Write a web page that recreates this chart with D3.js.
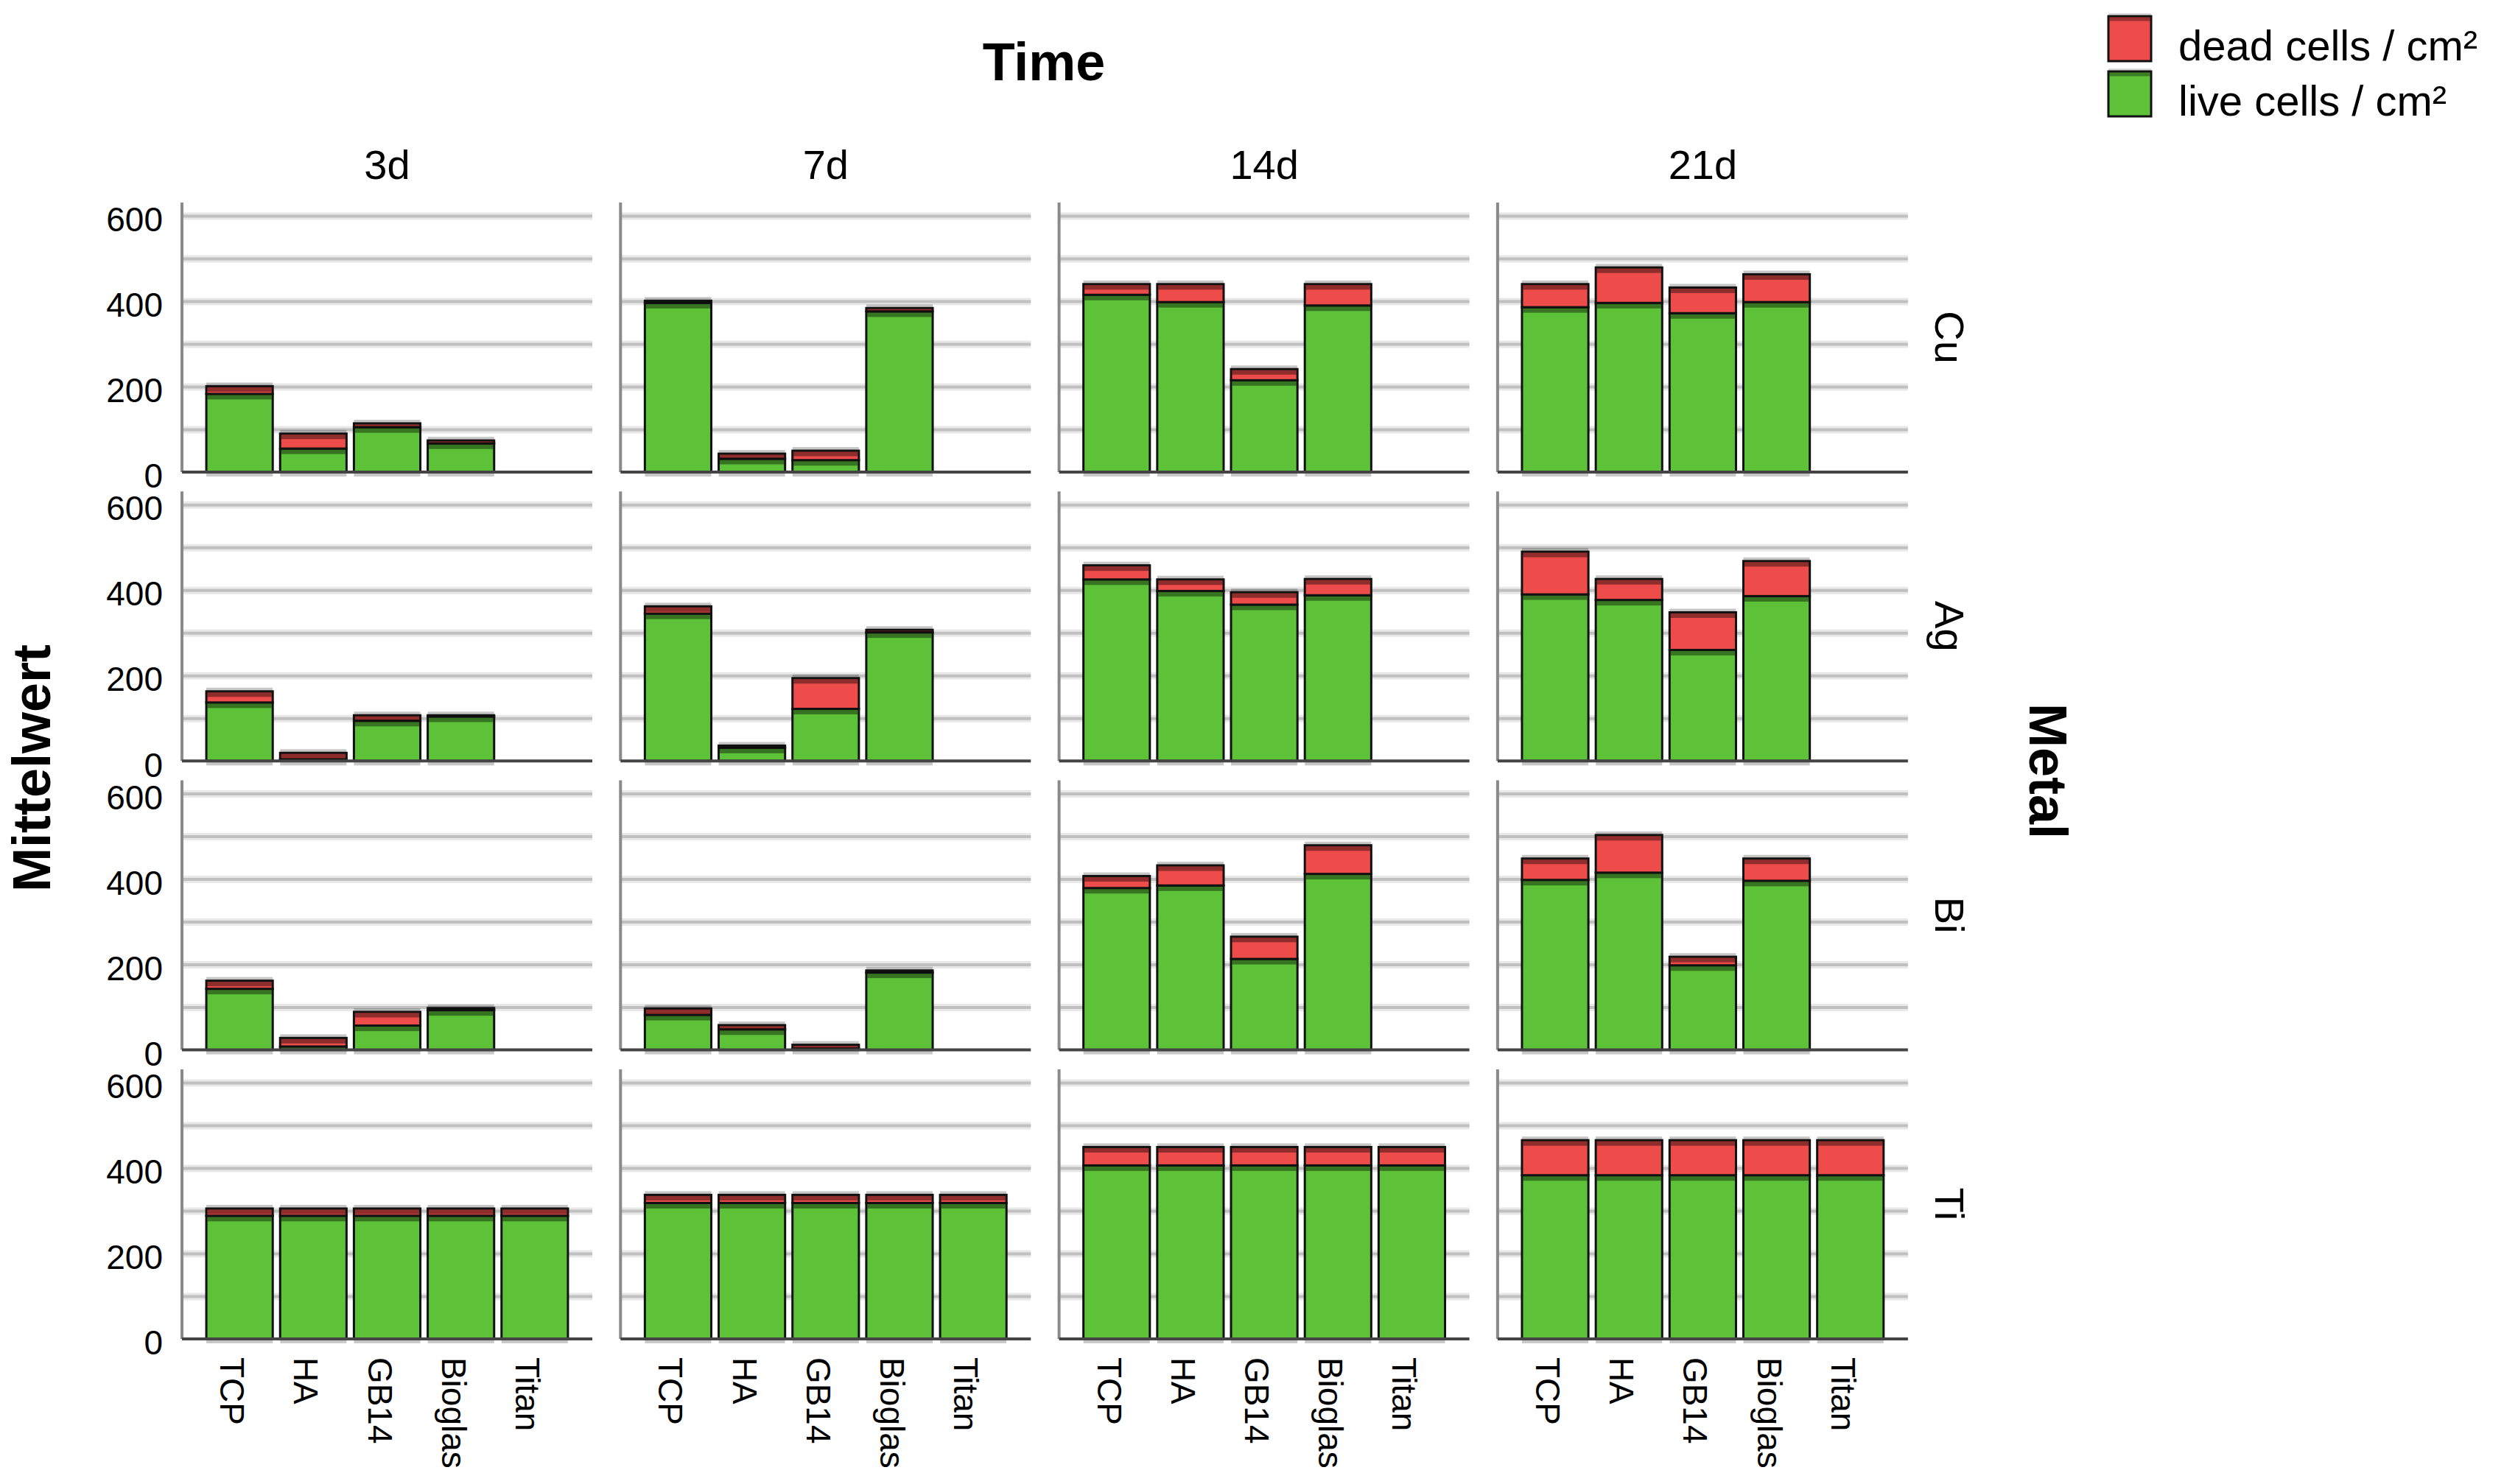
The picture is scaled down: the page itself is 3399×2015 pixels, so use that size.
<!DOCTYPE html>
<html>
<head>
<meta charset="utf-8">
<script src="https://cdn.jsdelivr.net/npm/d3@7"></script>
<style>
  body { margin: 0; background: #fff; }
  text { font-family: "Liberation Sans", Arial, sans-serif; fill: #000; }
</style>
</head>
<body>
<div id="chart"></div>
<script>
var metals = ["Cu", "Ag", "Bi", "Ti"];
var times = ["3d", "7d", "14d", "21d"];
var materials = ["TCP", "HA", "GB14", "Bioglas", "Titan"];
var yTicks = [0, 200, 400, 600];
var gridTicks = [100, 200, 300, 400, 500, 600];
var seriesNames = ["dead cells / cm²", "live cells / cm²"];

// mean cells / cm², one row per time: [TCP, HA, GB14, Bioglas(, Titan)]
var liveCu = [[183, 55, 105, 67], [396, 31, 28, 376], [415, 398, 215, 390], [386, 396, 372, 398]];
var deadCu = [[18, 35, 9, 7], [5, 12, 22, 8], [25, 42, 26, 50], [54, 83, 60, 65]];
var liveAg = [[137, 4, 94, 104], [345, 31, 122, 301], [425, 398, 366, 388], [390, 377, 260, 386]];
var deadAg = [[26, 15, 13, 3], [17, 5, 72, 6], [33, 27, 29, 38], [100, 49, 88, 82]];
var liveBi = [[143, 8, 57, 93], [82, 48, 3, 181], [379, 385, 213, 412], [398, 415, 198, 396]];
var deadBi = [[19, 20, 32, 5], [15, 10, 9, 5], [28, 47, 52, 67], [50, 88, 20, 52]];
var liveTi = [[288, 288, 288, 288, 288], [318, 318, 318, 318, 318], [406, 406, 406, 406, 406], [383, 383, 383, 383, 383]];
var deadTi = [[17, 17, 17, 17, 17], [19, 19, 19, 19, 19], [43, 43, 43, 43, 43], [82, 82, 82, 82, 82]];

var live = [liveCu, liveAg, liveBi, liveTi];
var dead = [deadCu, deadAg, deadBi, deadTi];

var colLive = "#5dc238", colDead = "#ee4b4b";

var width = 3399, height = 2015;
var colLeft = 247, colStep = 595.3, panelW = 557;
var rowTop = 275, rowStep = 392.3, panelH = 366;

var svg = d3.select("#chart")
	.append("svg")
	.attr("width", width)
	.attr("height", height);

var x = d3.scaleBand()
	.domain(materials)
	.range([0, panelW])
	.paddingInner(0.1)
	.paddingOuter(0.33);

var y = d3.scaleLinear()
	.domain([0, 631])
	.range([panelH, 0]);

var stack = d3.stack().keys(["live", "dead"]);

metals.forEach(function(m, i){
	times.forEach(function(t, j){
		var g = svg.append("g")
			.attr("transform", "translate(" + (colLeft + j * colStep) + ", " + (rowTop + i * rowStep) + ")");

		// gridlines: light halo then line
		g.append("g")
			.call(d3.axisLeft(y).tickValues(gridTicks).tickSize(-panelW).tickFormat(""))
			.call(function(a){ a.select(".domain").remove(); })
			.selectAll("line")
				.attr("stroke", "#e8e8e8")
				.attr("stroke-width", 10);
		g.append("g")
			.call(d3.axisLeft(y).tickValues(gridTicks).tickSize(-panelW).tickFormat(""))
			.call(function(a){ a.select(".domain").remove(); })
			.selectAll("line")
				.attr("stroke", "#c0c0c0")
				.attr("stroke-width", 4);

		var rows = live[i][j].map(function(v, k){
			return { mat: materials[k], live: v, dead: dead[i][j][k] };
		});
		var layers = stack(rows);

		// soft shadow behind each bar
		g.selectAll("rect.shadow")
			.data(rows)
			.enter()
			.append("rect")
				.attr("class", "shadow")
				.attr("x", function(d){ return x(d.mat); })
				.attr("y", function(d){ return y(d.live + d.dead) - 5; })
				.attr("width", x.bandwidth())
				.attr("height", function(d){ return panelH - y(d.live + d.dead) + 11; })
				.attr("fill", "#000")
				.attr("opacity", 0.22);

		layers.forEach(function(layer){
			var fill = layer.key == "live" ? colLive : colDead;
			var seg = g.append("g");
			seg.selectAll("rect.seg")
				.data(layer)
				.enter()
				.append("rect")
					.attr("class", "seg")
					.attr("x", function(d){ return x(d.data.mat); })
					.attr("y", function(d){ return y(d[1]); })
					.attr("width", x.bandwidth())
					.attr("height", function(d){ return y(d[0]) - y(d[1]); })
					.attr("fill", fill)
					.attr("stroke", "#111")
					.attr("stroke-width", 3);
			// darker strip under the top edge
			seg.selectAll("rect.edge")
				.data(layer)
				.enter()
				.append("rect")
					.attr("class", "edge")
					.attr("x", function(d){ return x(d.data.mat) + 1.5; })
					.attr("y", function(d){ return y(d[1]) + 1.5; })
					.attr("width", x.bandwidth() - 3)
					.attr("height", function(d){ return Math.min(6, Math.max(0, y(d[0]) - y(d[1]) - 1.5)); })
					.attr("fill", "#000")
					.attr("opacity", 0.4);
		});

		// axis line and zero line
		g.append("line")
			.attr("x1", 0).attr("x2", 0)
			.attr("y1", 0).attr("y2", panelH)
			.attr("stroke", "#8a8a8a")
			.attr("stroke-width", 4);
		g.append("line")
			.attr("x1", 0).attr("x2", panelW)
			.attr("y1", y(0)).attr("y2", y(0))
			.attr("stroke", "#444")
			.attr("stroke-width", 4);

		if (j == 0) {
			g.append("g")
				.call(d3.axisLeft(y).tickValues(yTicks).tickSize(0).tickPadding(26))
				.call(function(a){ a.select(".domain").remove(); })
				.selectAll("text")
					.attr("font-size", "46px")
					.attr("dy", "0.45em")
					.style("font-family", "'Liberation Sans', Arial, sans-serif");
		}

		if (i == metals.length - 1) {
			g.append("g")
				.attr("transform", "translate(0, " + panelH + ")")
				.call(d3.axisBottom(x).tickSize(0))
				.call(function(a){ a.select(".domain").remove(); })
				.selectAll("text")
					.attr("font-size", "46px")
					.attr("transform", "rotate(90)")
					.attr("x", 25)
					.attr("y", 26)
					.attr("dy", 0)
					.style("text-anchor", "start")
					.style("font-family", "'Liberation Sans', Arial, sans-serif");
		}
	});
});

// facet labels: columns
svg.selectAll("text.col")
	.data(times)
	.enter()
	.append("text")
		.attr("class", "col")
		.attr("x", function(d, j){ return colLeft + j * colStep + panelW / 2; })
		.attr("y", 243)
		.attr("font-size", "56px")
		.attr("text-anchor", "middle")
		.text(function(d){ return d; });

// facet labels: rows
svg.selectAll("text.row")
	.data(metals)
	.enter()
	.append("text")
		.attr("class", "row")
		.attr("transform", function(d, i){
			return "translate(2627, " + (rowTop + i * rowStep + panelH / 2) + ") rotate(90)";
		})
		.attr("font-size", "56px")
		.attr("text-anchor", "middle")
		.text(function(d){ return d; });

svg.append("text")
	.attr("x", 1417)
	.attr("y", 109)
	.attr("font-size", "72px")
	.attr("font-weight", "bold")
	.attr("text-anchor", "middle")
	.text("Time");

svg.append("text")
	.attr("transform", "translate(2755, 1047) rotate(90)")
	.attr("font-size", "72px")
	.attr("font-weight", "bold")
	.attr("text-anchor", "middle")
	.text("Metal");

svg.append("text")
	.attr("transform", "translate(68, 1043) rotate(-90)")
	.attr("font-size", "72px")
	.attr("font-weight", "bold")
	.attr("text-anchor", "middle")
	.text("Mittelwert");

// legend
var legend = svg.append("g").attr("transform", "translate(2862, 22)");
var legendColors = [colDead, colLive];
seriesNames.forEach(function(name, k){
	var ly = k * 75;
	legend.append("rect")
		.attr("x", 0).attr("y", ly - 4)
		.attr("width", 58).attr("height", 4)
		.attr("fill", "#000").attr("opacity", 0.15);
	legend.append("rect")
		.attr("x", 0).attr("y", ly)
		.attr("width", 58).attr("height", 61)
		.attr("fill", legendColors[k])
		.attr("stroke", "#111")
		.attr("stroke-width", 3);
	legend.append("rect")
		.attr("x", 1.5).attr("y", ly + 1.5)
		.attr("width", 55).attr("height", 5)
		.attr("fill", "#000").attr("opacity", 0.35);
	legend.append("text")
		.attr("x", 95)
		.attr("y", ly + 60)
		.attr("font-size", "58px")
		.text(name);
});
</script>
</body>
</html>
